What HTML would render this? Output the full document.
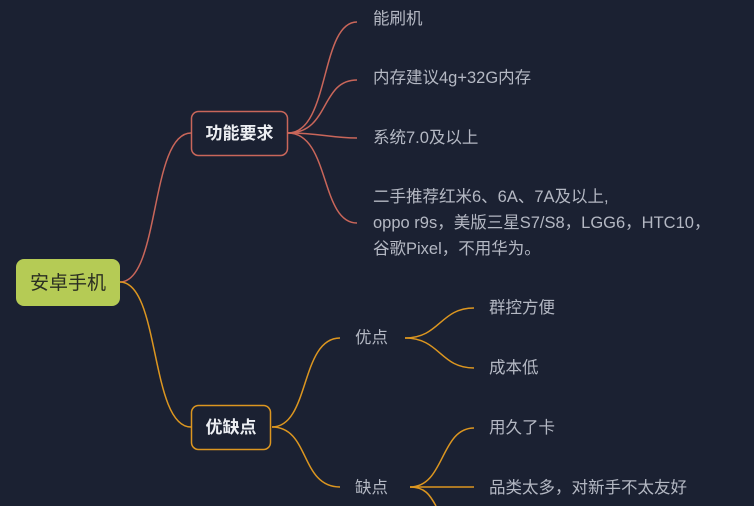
<!DOCTYPE html>
<html><head><meta charset="utf-8"><style>
html,body{margin:0;padding:0;background:#1b2132;width:754px;height:506px;overflow:hidden}
svg{display:block}
text{font-family:"Liberation Sans","Noto Sans CJK SC",sans-serif;font-size:16.5px;fill:#b4b8c3}
</style></head><body>
<svg width="754" height="506" viewBox="0 0 754 506">
<g fill="none" stroke="#c9665a" stroke-width="1.5">
<path d="M120 282 C160 282,150 133,191 133"/>
<path d="M288 133 C330 133,320 22,357 22"/>
<path d="M288 133 C330 133,320 80,357 80"/>
<path d="M288 133 C320 133,330 138,357 138"/>
<path d="M288 133 C330 133,320 223,357 223"/>
</g>
<g fill="none" stroke="#dc9620" stroke-width="1.5">
<path d="M120 282 C160 282,150 427,191 427"/>
<path d="M272 427 C310 427,300 338,340 338"/>
<path d="M272 427 C310 427,300 487,340 487"/>
<path d="M405 338 C440 338,440 308,474 308"/>
<path d="M405 338 C440 338,440 368,474 368"/>
<path d="M410 487 C445 487,440 428,474 428"/>
<path d="M410 487 L474 487"/>
<path d="M410 487 C425 487,430 495,436 506"/>
</g>
<rect x="16" y="259" width="104" height="47" rx="8" fill="#b5cb55"/>
<text x="68" y="289" text-anchor="middle" style="fill:#2a2e22;font-size:19px">安卓手机</text>
<rect x="191.5" y="111.5" width="96" height="44" rx="7" fill="#1b2132" stroke="#c9665a" stroke-width="1.5"/>
<text x="239.5" y="139" text-anchor="middle" style="fill:#eceef2;font-weight:bold;font-size:17px">功能要求</text>
<rect x="191.5" y="405.5" width="79" height="44" rx="7" fill="#1b2132" stroke="#dc9620" stroke-width="1.5"/>
<text x="231" y="433" text-anchor="middle" style="fill:#eceef2;font-weight:bold;font-size:17px">优缺点</text>
<text x="373" y="24">能刷机</text>
<text x="373" y="83">内存建议4g+32G内存</text>
<text x="373" y="143">系统7.0及以上</text>
<text x="373" y="202">二手推荐红米6、6A、7A及以上,</text>
<text x="373" y="228">oppo r9s，美版三星S7/S8，LGG6，HTC10，</text>
<text x="373" y="254">谷歌Pixel，不用华为。</text>
<text x="355" y="343">优点</text>
<text x="355" y="493">缺点</text>
<text x="489" y="313">群控方便</text>
<text x="489" y="373">成本低</text>
<text x="489" y="433">用久了卡</text>
<text x="489" y="493">品类太多，对新手不太友好</text>
</svg>
</body></html>
